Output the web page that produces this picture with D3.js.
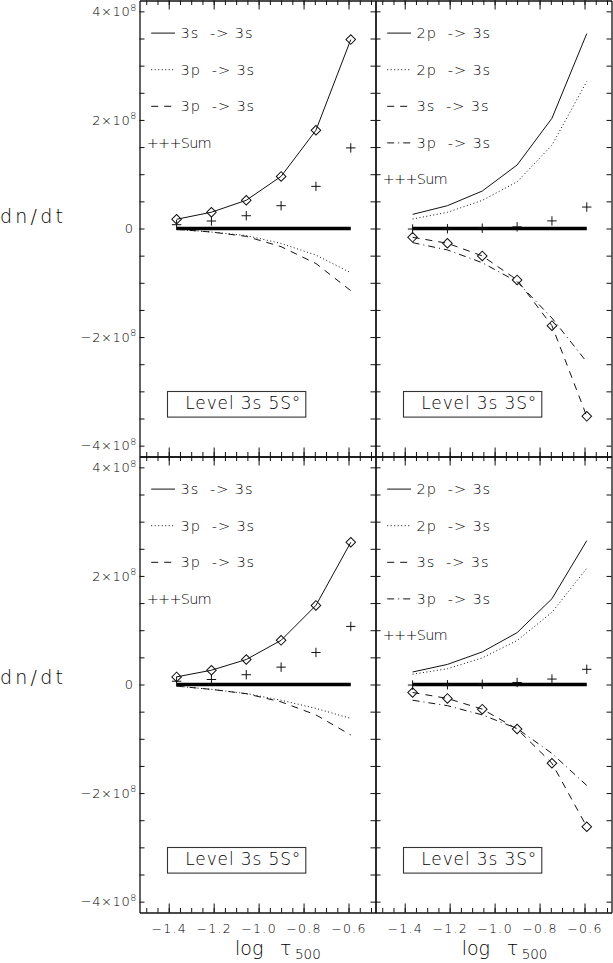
<!DOCTYPE html>
<html><head><meta charset="utf-8">
<script src="https://cdn.jsdelivr.net/npm/d3@7"></script>
<style>
body{margin:0;background:#fff;}
svg{display:block;}
text{font-family:"DejaVu Sans",sans-serif;font-weight:200;fill:#000;}
</style></head><body>
<svg id="c" width="613" height="963"></svg>
<script>
// ---------------- data ----------------
const tau = [-1.365, -1.21, -1.055, -0.90, -0.745, -0.59];   // log tau_500
const xTickMajor = [-1.4, -1.2, -1.0, -0.8, -0.6];
const yTickMajor = [-4, -2, 0, 2, 4];                         // units of 10^8
const yTickLabels = ["\u22124\u00d710", "\u22122\u00d710", "0", "2\u00d710", "4\u00d710"];

const LEG_5S = ["3s  -> 3s", "3p  -> 3s", "3p  -> 3s"];
const LEG_3S = ["2p  -> 3s", "2p  -> 3s", "3s  -> 3s", "3p  -> 3s"];
const LABEL_5S = "Level 3s 5S\u00b0";
const LABEL_3S = "Level 3s 3S\u00b0";

// top row (units of 10^8)
const t5S_3s3s   = [0.17, 0.30, 0.52, 0.96, 1.81, 3.48];
const t5S_3p3sA  = [-0.015, -0.065, -0.13, -0.275, -0.49, -0.815];
const t5S_3p3sB  = [-0.015, -0.065, -0.145, -0.335, -0.645, -1.145];
const t5S_sum    = [0.07, 0.138, 0.235, 0.42, 0.776, 1.485];

const t3S_2p3sA  = [0.26, 0.42, 0.69, 1.17, 2.03, 3.59];
const t3S_2p3sB  = [0.175, 0.298, 0.518, 0.86, 1.535, 2.71];
const t3S_3s3s   = [-0.162, -0.272, -0.505, -0.947, -1.79, -3.46];
const t3S_3p3s   = [-0.26, -0.395, -0.63, -0.98, -1.65, -2.46];
const t3S_sum    = [-0.01, -0.005, 0.005, 0.03, 0.14, 0.395];

// bottom row
const b5S_3s3s   = [0.14, 0.263, 0.46, 0.814, 1.457, 2.62];
const b5S_3p3sA  = [-0.03, -0.09, -0.165, -0.29, -0.44, -0.625];
const b5S_3p3sB  = [-0.03, -0.09, -0.17, -0.32, -0.56, -0.93];
const b5S_sum    = [0.06, 0.092, 0.18, 0.32, 0.59, 1.07];

const b3S_2p3sA  = [0.23, 0.37, 0.60, 0.955, 1.58, 2.65];
const b3S_2p3sB  = [0.19, 0.29, 0.49, 0.81, 1.33, 2.14];
const b3S_3s3s   = [-0.147, -0.257, -0.454, -0.82, -1.45, -2.62];
const b3S_3p3s   = [-0.29, -0.39, -0.56, -0.81, -1.27, -1.86];
const b3S_sum    = [-0.01, -0.005, 0.005, 0.037, 0.10, 0.28];

// ---------------- layout ----------------
const svg = d3.select("#c");
const X_DOMAIN = [-1.53, -0.48], Y_DOMAIN = [-4.2, 4.2];
const cols = [[139.5, 375.5], [375.5, 611.5]];
const rows = [[0.5, 456.5], [456.5, 912.5]];
const dashes = {solid: null, dot: "1,2.5", dash: "7,6", dashdot: "7,4,1,4"};
const INK = "#111";

const panels = [
  {c:0, r:0, label:LABEL_5S, legend:LEG_5S, sum:t5S_sum, series:[
    {v:t5S_3s3s, s:"solid", diamond:true}, {v:t5S_3p3sA, s:"dot"}, {v:t5S_3p3sB, s:"dash"}]},
  {c:1, r:0, label:LABEL_3S, legend:LEG_3S, sum:t3S_sum, series:[
    {v:t3S_2p3sA, s:"solid"}, {v:t3S_2p3sB, s:"dot"}, {v:t3S_3s3s, s:"dash", diamond:true}, {v:t3S_3p3s, s:"dashdot"}]},
  {c:0, r:1, label:LABEL_5S, legend:LEG_5S, sum:b5S_sum, series:[
    {v:b5S_3s3s, s:"solid", diamond:true}, {v:b5S_3p3sA, s:"dot"}, {v:b5S_3p3sB, s:"dash"}]},
  {c:1, r:1, label:LABEL_3S, legend:LEG_3S, sum:b3S_sum, series:[
    {v:b3S_2p3sA, s:"solid"}, {v:b3S_2p3sB, s:"dot"}, {v:b3S_3s3s, s:"dash", diamond:true}, {v:b3S_3p3s, s:"dashdot"}]}
];

function styleAxis(g, keepDomain){
  g.selectAll("line").attr("stroke", INK).attr("stroke-width", 1);
  if (keepDomain) g.select(".domain").attr("stroke", INK).attr("stroke-width", 1.3);
  else g.select(".domain").remove();
  g.selectAll("text").attr("fill", "#000").attr("font-family", "DejaVu Sans").attr("font-weight", 200);
}

panels.forEach(p => {
  const [L, R] = cols[p.c], [T, B] = rows[p.r];
  const x = d3.scaleLinear().domain(X_DOMAIN).range([L, R]);
  const y = d3.scaleLinear().domain(Y_DOMAIN).range([B, T]);
  const g = svg.append("g");
  const xMinor = x.ticks(20), yMinor = y.ticks(16);

  // bottom
  g.append("g").attr("transform", `translate(0,${B})`)
    .call(d3.axisBottom(x).tickValues(xMinor).tickSize(-4.5).tickSizeOuter(0).tickFormat(""))
    .call(a => styleAxis(a, true));
  const xb = g.append("g").attr("transform", `translate(0,${B})`)
    .call(d3.axisBottom(x).tickValues(xTickMajor).tickSize(-9).tickSizeOuter(0).tickPadding(12)
      .tickFormat(p.r === 1 ? d3.format(".1f") : ""))
    .call(a => styleAxis(a, false));
  xb.selectAll("text").attr("font-size", 12.5).attr("letter-spacing", 1.3);
  // top
  g.append("g").attr("transform", `translate(0,${T})`)
    .call(d3.axisTop(x).tickValues(xMinor).tickSize(-4.5).tickSizeOuter(0).tickFormat(""))
    .call(a => styleAxis(a, true));
  g.append("g").attr("transform", `translate(0,${T})`)
    .call(d3.axisTop(x).tickValues(xTickMajor).tickSize(-9).tickSizeOuter(0).tickFormat(""))
    .call(a => styleAxis(a, false));
  // left
  g.append("g").attr("transform", `translate(${L},0)`)
    .call(d3.axisLeft(y).tickValues(yMinor).tickSize(-5).tickSizeOuter(0).tickFormat(""))
    .call(a => styleAxis(a, true));
  // right
  g.append("g").attr("transform", `translate(${R},0)`)
    .call(d3.axisRight(y).tickValues(yMinor).tickSize(-5).tickSizeOuter(0).tickFormat(""))
    .call(a => styleAxis(a, true));

  if (p.c === 0) {
    const yl = g.append("g").attr("transform", `translate(${L},0)`)
      .call(d3.axisLeft(y).tickValues(yTickMajor).tickSize(0).tickPadding(2.5)
        .tickFormat((d, i) => yTickLabels[i]))
      .call(a => styleAxis(a, false));
    yl.selectAll("text").attr("font-size", 13).attr("letter-spacing", 0.6)
      .each(function(d, i){
        const t = d3.select(this);
        if (d === 0) { t.attr("dx", -3.5); return; }
        const base = yTickLabels[i];
        t.text(null);
        t.append("tspan").text(base);
        t.append("tspan").attr("dy", -5.5).attr("font-size", 9.5).text("8");
      });
    // y title
    svg.append("text").attr("x", 0).attr("y", p.r === 0 ? 222.7 : 684)
      .attr("font-size", 19).attr("textLength", 63).attr("lengthAdjust", "spacing")
      .text("dn/dt");
  }

  // x title
  if (p.r === 1) {
    const tx = p.c === 0 ? 235 : 461.7;
    const t = svg.append("text").attr("y", 955).attr("font-size", 19);
    t.append("tspan").attr("x", tx).text("log");
    t.append("tspan").attr("x", tx + 45).text("\u03c4");
    t.append("tspan").attr("x", tx + 60).attr("dy", 4.3).attr("font-size", 13.5).text("500");
  }

  // zero reference line
  g.append("line")
    .attr("x1", x(tau[0])).attr("x2", x(tau[tau.length - 1]))
    .attr("y1", y(0)).attr("y2", y(0))
    .attr("stroke", "#000").attr("stroke-width", 3.6);

  const line = d3.line().x((d, i) => x(tau[i])).y(d => y(d));
  p.series.forEach(s => {
    g.append("path").datum(s.v).attr("d", line)
      .attr("fill", "none").attr("stroke", INK).attr("stroke-width", 1)
      .attr("stroke-dasharray", dashes[s.s]);
    if (s.diamond) {
      g.selectAll(null).data(s.v).enter().append("path")
        .attr("d", d3.symbol(d3.symbolSquare, 46)())
        .attr("transform", (d, i) => `translate(${x(tau[i])},${y(d)}) rotate(45)`)
        .attr("fill", "none").attr("stroke", INK).attr("stroke-width", 1);
    }
  });
  // sum markers (+)
  g.selectAll(null).data(p.sum).enter().append("path")
    .attr("d", "M-4.7,0H4.7M0,-4.7V4.7")
    .attr("transform", (d, i) => `translate(${x(tau[i])},${y(d)})`)
    .attr("fill", "none").attr("stroke", INK).attr("stroke-width", 1);

  // legend
  const ly0 = T + 32.6, ldy = 36.6;
  p.legend.forEach((name, i) => {
    const yy = ly0 + i * ldy;
    g.append("line").attr("x1", L + 11.7).attr("x2", L + 35.5).attr("y1", yy).attr("y2", yy)
      .attr("stroke", INK).attr("stroke-width", 1)
      .attr("stroke-dasharray", dashes[p.series[i].s]);
    g.append("text").attr("x", L + 41).attr("y", yy + 4.9)
      .attr("font-size", 14.5).attr("xml:space", "preserve").style("white-space", "pre")
      .attr("letter-spacing", 0.9).text(name);
  });
  g.append("text").attr("x", L + 7.2).attr("y", ly0 + p.legend.length * ldy + 4.9)
    .attr("font-size", 14.5).attr("textLength", 65).attr("lengthAdjust", "spacing").text("+++Sum");

  // level label box
  g.append("rect").attr("x", L + 28).attr("y", T + 391).attr("width", 138.3).attr("height", 25.6)
    .attr("fill", "#fff").attr("stroke", "#333").attr("stroke-width", 1.1);
  g.append("text").attr("x", L + 45.8).attr("y", T + 408.5).attr("font-size", 17)
    .attr("textLength", 115).attr("lengthAdjust", "spacing").text(p.label);
});
</script>
</body></html>
